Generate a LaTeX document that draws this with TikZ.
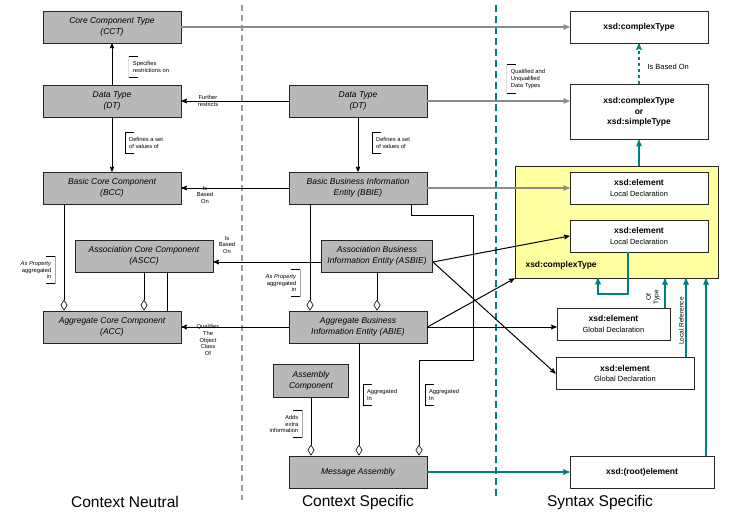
\documentclass[tikz,border=0pt]{standalone}
\usepackage{fontspec}
\setmainfont{Liberation Sans}
\usetikzlibrary{shapes,positioning,arrows,arrows.meta}
\definecolor{synteal}{RGB}{0,128,128}
\definecolor{xsdyellow}{RGB}{255,255,160}
\tikzset {
comp/.style={shape=rectangle,draw=black!85,line width=.8pt,fill=black!28,minimum width=138pt,minimum height=32pt,inner sep=1pt,align=center,font=\fontsize{8.5}{10.5}\selectfont\itshape},
xsd/.style={shape=rectangle,draw=black!85,line width=.8pt,fill=white,minimum width=138pt,minimum height=32pt,inner sep=1pt,align=center,font=\fontsize{8.5}{10.5}\selectfont\bfseries},
note/.style={font=\fontsize{5.8}{6.6}\selectfont,align=left,inner xsep=4pt,inner ysep=5pt,
  path picture={\draw[line width=1pt] ([xshift=9pt]path picture bounding box.north west) -- (path picture bounding box.north west) -- (path picture bounding box.south west) -- ([xshift=9pt]path picture bounding box.south west);}},
rnote/.style={font=\fontsize{5.8}{6.6}\selectfont,align=right,inner xsep=4pt,inner ysep=5pt,
  path picture={\draw[line width=1pt] ([xshift=-9pt]path picture bounding box.north east) -- (path picture bounding box.north east) -- (path picture bounding box.south east) -- ([xshift=-9pt]path picture bounding box.south east);}},
lab/.style={font=\fontsize{5.8}{6.6}\selectfont,align=center,inner sep=0pt},
garr/.style={->,draw=black!45,line width=1.2pt},
tarr/.style={->,draw=synteal,line width=1.3pt},
agg/.style={-{Diamond[open,length=11pt,width=7pt]},line width=.6pt},
zone/.style={font=\fontsize{15.5}{18}\selectfont}
}
\begin{document}
\begin{tikzpicture}
[>=stealth',x=1pt,y=-1pt]
\useasboundingbox (0,0) rectangle (733,520);
\draw[black!40,line width=2pt,dash pattern=on 6pt off 4pt] (242,5) -- (242,500);
\draw[synteal,line width=2pt,dash pattern=on 7pt off 4pt] (496,5) -- (496,500);
% context neutral
\node[comp] (cct) at (112,27) {Core Component Type\\(CCT)};
\node[comp] (dtl) at (112,101) {Data Type\\(DT)};
\node[comp] (bcc) at (112,188) {Basic Core Component\\(BCC)};
\node[comp] (ascc) at (144,256) {Association Core Component\\(ASCC)};
\node[comp] (acc) at (112,327) {Aggregate Core Component\\(ACC)};
% context specific
\node[comp] (dtm) at (358,101) {Data Type\\(DT)};
\node[comp] (bbie) at (358,188) {Basic Business Information\\Entity (BBIE)};
\node[comp,minimum width=111pt] (asbie) at (377,256) {Association Business\\Information Entity (ASBIE)};
\node[comp] (abie) at (358,327) {Aggregate Business\\Information Entity (ABIE)};
\node[comp,minimum width=75pt,minimum height=33pt] (asmc) at (311,381) {Assembly\\Component};
\node[comp] (msg) at (358,472) {Message Assembly};
% syntax specific
\node[xsd] (xct) at (639,27) {xsd:complexType};
\node[xsd,minimum height=55pt] (xcs) at (639,112) {xsd:complexType\\or\\xsd:simpleType};
\node[draw=black!85,line width=.8pt,fill=xsdyellow,minimum width=203pt,minimum height=112pt,inner sep=0pt] (yel) at (616.5,222) {};
\node[font=\fontsize{8.5}{10}\selectfont\bfseries,anchor=west] (yct) at (522,265) {xsd:complexType};
\node[xsd] (loc1) at (639,188) {xsd:element\\{\mdseries\fontsize{7.5}{8}\selectfont Local Declaration}};
\node[xsd] (loc2) at (639,236) {xsd:element\\{\mdseries\fontsize{7.5}{8}\selectfont Local Declaration}};
\node[xsd,minimum width=113pt] (glo1) at (613.5,324) {xsd:element\\{\mdseries\fontsize{7.5}{8}\selectfont Global Declaration}};
\node[xsd] (glo2) at (625,373.5) {xsd:element\\{\mdseries\fontsize{7.5}{8}\selectfont Global Declaration}};
\node[xsd,minimum width=144pt] (root) at (642,472) {xsd:(root)element};
\node[zone] (zn) at (125,502) {Context Neutral};
\node[zone] (zc) at (358,502) {Context Specific};
\node[zone] (zs) at (600,502) {Syntax Specific};
% vertical links
\draw[->,line width=.8pt] (dtl) -- (cct);
\node[note] (n1) at (151,67) {Specifies\\restrictions on};
\draw[->,line width=.8pt] (dtl) -- (bcc);
\node[note] (n2) at (146,143) {Defines a set\\of values of};
\draw[->,line width=.8pt] (dtm) -- (bbie);
\node[note] (n3) at (393,143) {Defines a set\\of values of};
\draw[agg] (bcc.south -| 64,0) -- (acc.north -| 64,0);
\node[rnote] (n4) at (36,270) {\textit{As Property}\\aggregated\\in};
\draw[agg] (ascc.south -| 144,0) -- (acc.north -| 144,0);
\draw[line width=.6pt] (ascc.south -| 167,0) -- (acc.north -| 167,0);
\draw[agg] (bbie.south -| 310,0) -- (abie.north -| 310,0);
\node[rnote] (n5) at (281,283) {\textit{As Property}\\aggregated\\in};
\draw[agg] (asbie) -- (asbie.south |- abie.north);
\draw[agg] (asmc) -- (asmc.south |- msg.north);
\node[rnote] (n6) at (284,424) {Adds\\extra\\information};
\draw[agg] (abie.south -| 359,0) -- (msg.north -| 359,0);
\node[note] (n7) at (382,395) {Aggregated\\In};
\coordinate (b1) at (473,215);
\coordinate (b2) at (473,360);
\draw[agg] (bbie.south -| 411,0) |- (b1) -- (b2) -| (msg.north -| 419,0);
\node[note] (n8) at (444,395) {Aggregated\\In};
% horizontal links
\draw[garr] (cct) -- (xct);
\draw[->,line width=1pt] (dtm) -- (dtl);
\node[lab] (l1) at (208,101) {Further\\restricts};
\draw[garr] (dtm.east) -- (dtm.east -| xcs.west);
\node[note] (n9) at (528,79) {Qualified and\\Unqualified\\Data Types};
\draw[->,line width=1pt] (bbie) -- (bcc);
\node[lab] (l2) at (205,195) {Is\\Based\\On};
\draw[garr] (bbie) -- (loc1);
\draw[->,line width=1pt] (asbie.west |- 0,262) -- (ascc.east |- 0,262);
\node[lab] (l3) at (227,245) {Is\\Based\\On};
\draw[->,line width=1pt] (abie) -- (acc);
\node[lab] (l4) at (208,340) {Qualifies\\The\\Object\\Class\\Of};
\draw[->,line width=1pt] (asbie.east |- 0,262) -- (loc2.west);
\draw[->,line width=1pt] (asbie.east |- 0,262) -- (glo2.west);
\draw[->,line width=1pt] (abie.east) -- (yel.south west);
\draw[->,line width=1pt] (abie.east) -- (abie.east -| glo1.west);
% syntax links
\draw[tarr] (msg) -- (root);
\draw[tarr] (yel.north -| xcs) -- (xcs);
\draw[tarr,dashed] (xcs) -- (xct);
\node[font=\fontsize{7.5}{9}\selectfont,anchor=west] (l5) at (644,67) {Is Based On};
\coordinate (c1) at (628,294);
\draw[tarr] (loc2.south -| 628,0) -- (c1) -| (598,278);
\draw[tarr] (glo1.north -| 665,0) -- (yel.south -| 665,0);
\node[lab,rotate=90,anchor=south,font=\fontsize{6.5}{7.5}\selectfont] (l6) at (660,297) {Of\\Type};
\draw[tarr] (glo2.north -| 686,0) -- (yel.south -| 686,0);
\node[lab,rotate=90,anchor=south,font=\fontsize{6.5}{7.5}\selectfont] (l7) at (684,321) {Local Reference};
\draw[tarr] (root.north -| 706,0) -- (yel.south -| 706,0);
\end{tikzpicture}
\end{document}
